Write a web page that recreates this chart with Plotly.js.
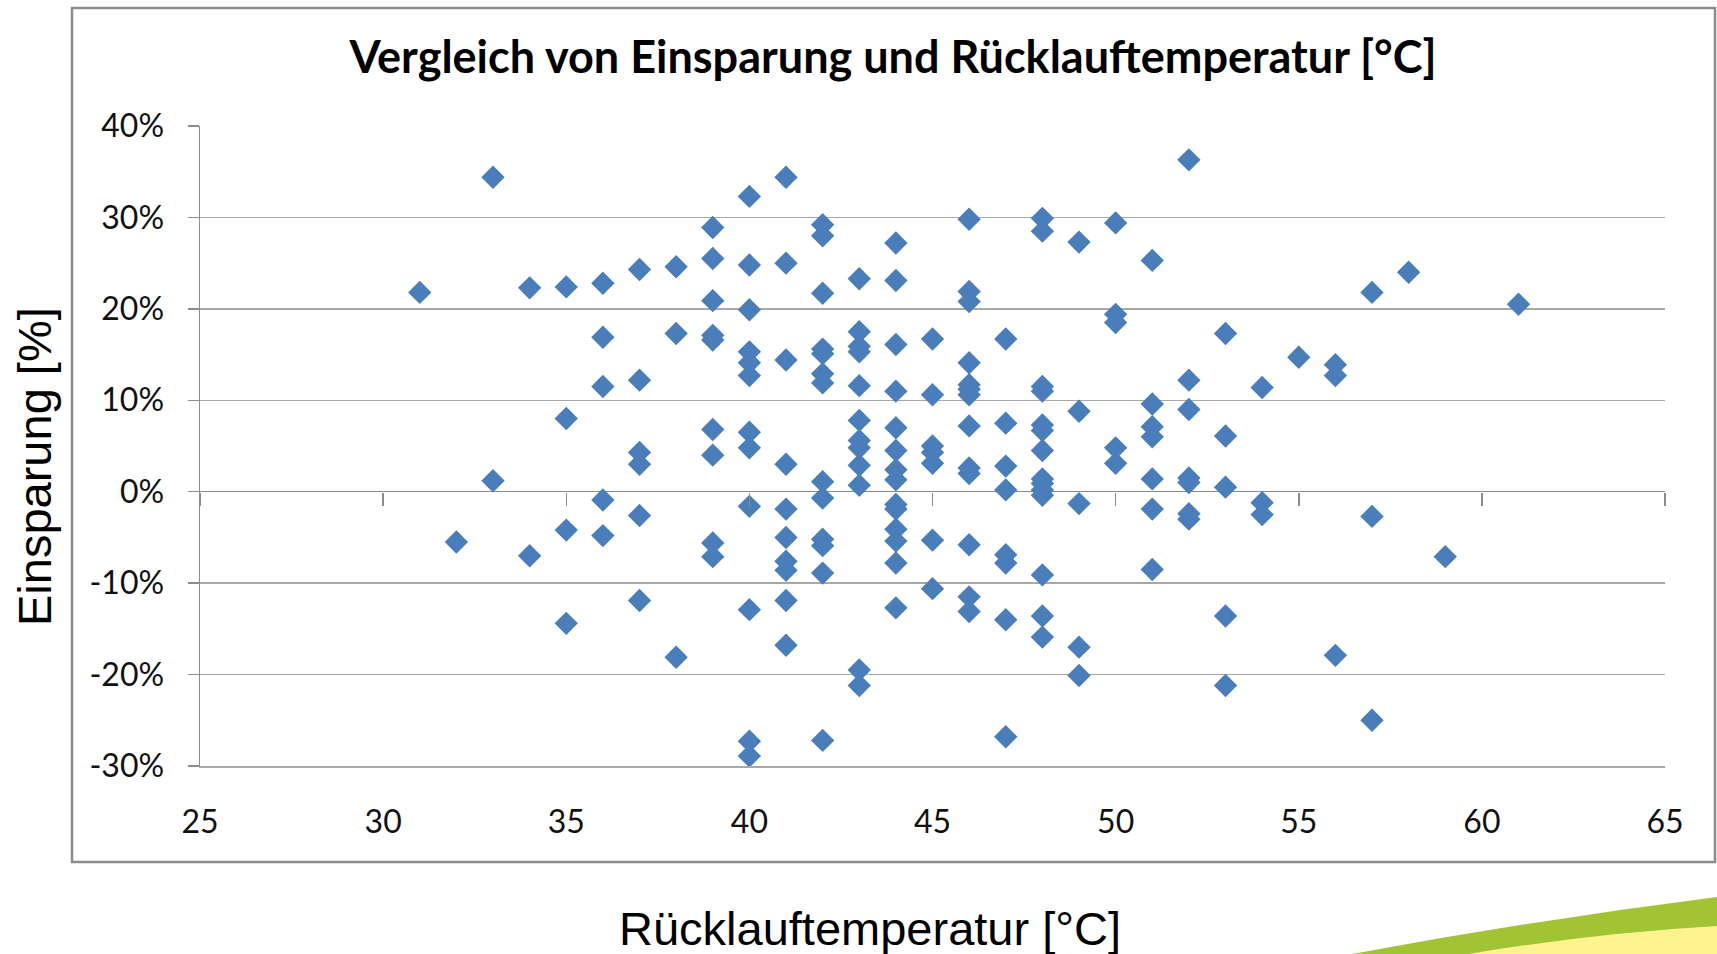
<!DOCTYPE html>
<html>
<head>
<meta charset="utf-8">
<script src="https://cdn.plot.ly/plotly-3.0.1.min.js"></script>
<style>
  html, body { margin: 0; padding: 0; background: #ffffff; }
  #chart { width: 1717px; height: 954px; }
</style>
</head>
<body>
<div id="chart"></div>
<script>
// ---- Data ----
const chartTitle = "Vergleich von Einsparung und Rücklauftemperatur [°C]";
const xAxisTitle = "Rücklauftemperatur [°C]";
const yAxisTitle = "Einsparung [%]";

// Rücklauftemperatur [°C] per point
const ruecklaufTemp = [
  31,
  32,
  33, 33,
  34, 34,
  35, 35, 35, 35,
  36, 36, 36, 36, 36,
  37, 37, 37, 37, 37, 37,
  38, 38, 38,
  39, 39, 39, 39, 39, 39, 39, 39, 39,
  40, 40, 40, 40, 40, 40, 40, 40, 40, 40, 40, 40,
  41, 41, 41, 41, 41, 41, 41, 41, 41, 41,
  42, 42, 42, 42, 42, 42, 42, 42, 42, 42, 42, 42, 42,
  43, 43, 43, 43, 43, 43, 43, 43, 43, 43, 43, 43,
  44, 44, 44, 44, 44, 44, 44, 44, 44, 44, 44, 44, 44, 44,
  45, 45, 45, 45, 45, 45, 45,
  46, 46, 46, 46, 46, 46, 46, 46, 46, 46, 46, 46, 46,
  47, 47, 47, 47, 47, 47, 47, 47,
  48, 48, 48, 48, 48, 48, 48, 48, 48, 48, 48, 48, 48, 48,
  49, 49, 49, 49, 49,
  50, 50, 50, 50, 50,
  51, 51, 51, 51, 51, 51, 51,
  52, 52, 52, 52, 52, 52, 52,
  53, 53, 53, 53, 53,
  54, 54, 54,
  55,
  56, 56, 56,
  57, 57, 57,
  58,
  59,
  61
];

// Einsparung [%] per point
const einsparungPct = [
  21.8,
  -5.5,
  34.4, 1.2,
  22.3, -7.0,
  22.4, 8.0, -4.2, -14.4,
  22.8, 16.9, 11.5, -0.9, -4.8,
  24.3, 12.2, 4.3, 3.0, -2.6, -11.9,
  24.6, 17.3, -18.1,
  28.9, 25.5, 20.9, 17.1, 16.6, 6.8, 4.0, -5.6, -7.1,
  32.3, 24.8, 19.9, 15.3, 14.1, 12.7, 6.5, 4.8, -1.6, -12.9, -27.3, -28.9,
  34.4, 25.0, 14.4, 3.0, -1.9, -5.0, -7.6, -8.6, -11.9, -16.8,
  29.2, 28.0, 21.7, 15.6, 15.1, 12.9, 11.9, 1.1, -0.7, -5.2, -5.9, -8.9, -27.2,
  23.3, 17.5, 15.9, 15.3, 11.6, 7.8, 5.6, 4.8, 2.9, 0.7, -19.5, -21.2,
  27.2, 23.1, 16.1, 11.0, 7.0, 4.5, 2.4, 1.3, -1.4, -1.9, -4.1, -5.4, -7.8, -12.7,
  16.7, 10.6, 5.0, 4.3, 3.1, -5.3, -10.6,
  29.8, 21.9, 20.8, 14.1, 11.7, 11.2, 10.6, 7.2, 2.6, 2.0, -5.8, -11.5, -13.1,
  16.7, 7.5, 2.8, 0.2, -6.9, -7.8, -14.0, -26.8,
  29.9, 28.5, 11.5, 11.0, 7.3, 6.7, 4.5, 1.4, 0.9, 0.2, -0.4, -9.1, -13.6, -15.9,
  27.3, 8.8, -1.3, -17.0, -20.1,
  29.4, 19.4, 18.5, 4.8, 3.1,
  25.3, 9.6, 7.1, 6.0, 1.4, -1.9, -8.5,
  36.3, 12.2, 9.0, 1.5, 1.0, -2.4, -3.0,
  17.3, 6.1, 0.5, -13.6, -21.2,
  11.4, -1.2, -2.5,
  14.7,
  13.9, 12.7, -17.9,
  21.8, -2.7, -25.0,
  24.0,
  -7.1,
  20.5
];

const xTickVals = [25, 30, 35, 40, 45, 50, 55, 60, 65];
const xTickText = ["25", "30", "35", "40", "45", "50", "55", "60", "65"];
const yTickVals = [-30, -20, -10, 0, 10, 20, 30, 40];
const yTickText = ["-30%", "-20%", "-10%", "0%", "10%", "20%", "30%", "40%"];
const xRange = [25, 65];
const yRange = [-30, 40];

// ---- Layout geometry (pixels) ----
const W = 1717, H = 954;
const L = 200, R = 1665, T = 126, B = 766;
const px = (x) => (x - L) / (R - L);
const py = (y) => (B - y) / (B - T);
const zeroPos = (0 - yRange[0]) / (yRange[1] - yRange[0]);

const gray = '#8c8c8c';
const gridGray = '#a8a8a8';
const tickFont = { family: 'Lato, "Open Sans", sans-serif', size: 32, color: '#111111' };

const traces = [
  {
    type: 'scatter',
    mode: 'markers',
    x: ruecklaufTemp,
    y: einsparungPct,
    marker: { symbol: 'diamond', size: 18, color: '#4a7ebb', line: { width: 0 } },
    showlegend: false,
    hoverinfo: 'x+y'
  },
  {
    type: 'scatter',
    mode: 'markers',
    x: [],
    y: [],
    xaxis: 'x2',
    showlegend: false,
    hoverinfo: 'skip'
  }
];

const layout = {
  width: W,
  height: H,
  paper_bgcolor: '#ffffff',
  plot_bgcolor: '#ffffff',
  margin: { l: L, r: W - R, t: T, b: H - B, pad: 0 },
  showlegend: false,
  title: {
    text: '<b>' + chartTitle + '</b>',
    xref: 'container', x: 893 / W, xanchor: 'center',
    yref: 'container', y: 1 - 57 / H, yanchor: 'middle',
    font: { family: 'Lato, "Open Sans", sans-serif', size: 45, color: '#000000' }
  },
  xaxis: {
    range: xRange,
    tickvals: xTickVals,
    ticktext: xTickText,
    showgrid: false,
    zeroline: false,
    showline: true,
    linecolor: gridGray,
    linewidth: 1.5,
    ticks: '',
    ticklabelstandoff: 27,
    tickfont: tickFont,
    fixedrange: true
  },
  xaxis2: {
    overlaying: 'x',
    anchor: 'free',
    position: zeroPos,
    side: 'bottom',
    range: xRange,
    tickvals: xTickVals,
    showticklabels: false,
    showgrid: false,
    zeroline: false,
    showline: false,
    ticks: 'outside',
    ticklen: 13,
    tickwidth: 1.5,
    tickcolor: gray,
    fixedrange: true
  },
  yaxis: {
    range: yRange,
    tickvals: yTickVals,
    ticktext: yTickText,
    showgrid: true,
    gridcolor: gridGray,
    gridwidth: 1.5,
    zeroline: true,
    zerolinecolor: gray,
    zerolinewidth: 1.5,
    showline: true,
    linecolor: gray,
    linewidth: 1.5,
    ticks: 'outside',
    ticklen: 11,
    tickwidth: 1.5,
    tickcolor: gray,
    ticklabelstandoff: 17,
    tickfont: tickFont,
    fixedrange: true
  },
  annotations: [
    {
      text: xAxisTitle,
      xref: 'paper', yref: 'paper',
      x: px(870), y: py(928),
      xanchor: 'center', yanchor: 'middle',
      showarrow: false,
      font: { family: '"Liberation Sans", Arial, sans-serif', size: 47, color: '#000000' }
    },
    {
      text: yAxisTitle,
      xref: 'paper', yref: 'paper',
      x: px(34), y: py(467),
      xanchor: 'center', yanchor: 'middle',
      textangle: -90,
      showarrow: false,
      font: { family: '"Liberation Sans", Arial, sans-serif', size: 47, color: '#000000' }
    }
  ],
  shapes: [
    {
      type: 'rect', xref: 'paper', yref: 'paper',
      x0: px(72), x1: px(1715), y0: py(862), y1: py(8),
      line: { color: gray, width: 2.5 },
      fillcolor: 'rgba(0,0,0,0)',
      layer: 'below'
    },
    {
      type: 'path', xref: 'paper', yref: 'paper',
      path: 'M ' + px(1352) + ',' + py(954) +
            ' Q ' + px(1535) + ',' + py(920) + ' ' + px(1717) + ',' + py(897) +
            ' L ' + px(1717) + ',' + py(954) + ' Z',
      fillcolor: '#a1c435',
      line: { width: 0 },
      layer: 'below'
    },
    {
      type: 'path', xref: 'paper', yref: 'paper',
      path: 'M ' + px(1468) + ',' + py(954) +
            ' Q ' + px(1595) + ',' + py(933) + ' ' + px(1717) + ',' + py(926) +
            ' L ' + px(1717) + ',' + py(954) + ' Z',
      fillcolor: '#fff38d',
      line: { width: 0 },
      layer: 'below'
    }
  ]
};

Plotly.newPlot('chart', traces, layout, { displayModeBar: false, staticPlot: true });
</script>
</body>
</html>
